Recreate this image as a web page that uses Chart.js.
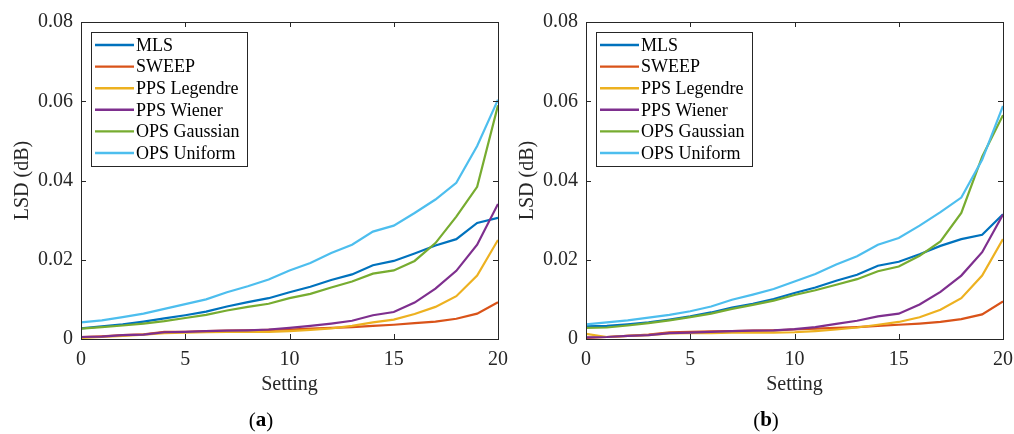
<!DOCTYPE html>
<html>
<head>
<meta charset="utf-8">
<script src="https://cdn.jsdelivr.net/npm/chart.js@4.4.1/dist/chart.umd.min.js"></script>
<style>
  body { margin: 0; background: #fff; width: 1014px; height: 434px; position: relative; overflow: hidden; }
  .panel { position: absolute; top: 0; width: 510px; height: 434px; }
</style>
</head>
<body>
<div class="panel" style="left:0"><canvas id="chartA"></canvas></div>
<div class="panel" style="left:505px"><canvas id="chartB"></canvas></div>
<script>
var settings = [0, 1, 2, 3, 4, 5, 6, 7, 8, 9, 10, 11, 12, 13, 14, 15, 16, 17, 18, 19, 20];
var names = ["MLS", "SWEEP", "PPS Legendre", "PPS Wiener", "OPS Gaussian", "OPS Uniform"];
var colors = ["#0072BD", "#D95319", "#EDB120", "#7E2F8E", "#77AC30", "#4DBEEE"];
var yTicks = [0, 0.02, 0.04, 0.06, 0.08];
var xTicks = [0, 5, 10, 15, 20];

// panel (a)
var mlsA = [0.0027, 0.0032, 0.0037, 0.0044, 0.0052, 0.0060, 0.0069, 0.0082, 0.0093, 0.0103, 0.0118, 0.0132, 0.0149, 0.0163, 0.0186, 0.0197, 0.0216, 0.0236, 0.0252, 0.0293, 0.0306];
var sweepA = [0.0005, 0.0007, 0.0010, 0.0012, 0.0018, 0.0018, 0.0020, 0.0021, 0.0022, 0.0023, 0.0024, 0.0026, 0.0028, 0.0030, 0.0033, 0.0036, 0.0040, 0.0044, 0.0051, 0.0064, 0.0093];
var legendreA = [0.0003, 0.0005, 0.0008, 0.0011, 0.0015, 0.0016, 0.0017, 0.0018, 0.0018, 0.0018, 0.0020, 0.0023, 0.0027, 0.0033, 0.0042, 0.0049, 0.0063, 0.0081, 0.0108, 0.0160, 0.0250];
var wienerA = [0.0005, 0.0006, 0.0010, 0.0011, 0.0017, 0.0018, 0.0020, 0.0021, 0.0022, 0.0024, 0.0028, 0.0033, 0.0039, 0.0046, 0.0060, 0.0068, 0.0092, 0.0127, 0.0172, 0.0238, 0.0341];
var gaussianA = [0.0026, 0.0030, 0.0034, 0.0039, 0.0045, 0.0053, 0.0061, 0.0072, 0.0081, 0.0089, 0.0103, 0.0114, 0.0130, 0.0145, 0.0165, 0.0173, 0.0197, 0.0242, 0.0309, 0.0384, 0.0590];
var uniformA = [0.0042, 0.0047, 0.0055, 0.0064, 0.0076, 0.0088, 0.0100, 0.0118, 0.0133, 0.0150, 0.0173, 0.0192, 0.0217, 0.0238, 0.0271, 0.0286, 0.0318, 0.0352, 0.0394, 0.0487, 0.0604];

// panel (b)
var mlsB = [0.0032, 0.0033, 0.0037, 0.0042, 0.0049, 0.0057, 0.0067, 0.0079, 0.0089, 0.0101, 0.0116, 0.0130, 0.0147, 0.0162, 0.0185, 0.0195, 0.0214, 0.0235, 0.0252, 0.0263, 0.0315];
var sweepB = [0.0003, 0.0005, 0.0008, 0.0011, 0.0017, 0.0018, 0.0019, 0.0020, 0.0021, 0.0022, 0.0024, 0.0026, 0.0028, 0.0030, 0.0033, 0.0036, 0.0039, 0.0043, 0.0050, 0.0062, 0.0095];
var legendreB = [0.0013, 0.0005, 0.0008, 0.0010, 0.0014, 0.0015, 0.0015, 0.0016, 0.0016, 0.0016, 0.0017, 0.0020, 0.0024, 0.0029, 0.0036, 0.0043, 0.0055, 0.0074, 0.0103, 0.0160, 0.0252];
var wienerB = [0.0004, 0.0005, 0.0008, 0.0010, 0.0015, 0.0016, 0.0018, 0.0020, 0.0021, 0.0022, 0.0025, 0.0030, 0.0038, 0.0046, 0.0057, 0.0064, 0.0087, 0.0119, 0.0160, 0.0219, 0.0314];
var gaussianB = [0.0028, 0.0029, 0.0034, 0.0040, 0.0047, 0.0055, 0.0064, 0.0076, 0.0086, 0.0097, 0.0111, 0.0123, 0.0137, 0.0151, 0.0171, 0.0183, 0.0210, 0.0246, 0.0318, 0.0460, 0.0565];
var uniformB = [0.0037, 0.0042, 0.0047, 0.0054, 0.0061, 0.0070, 0.0082, 0.0099, 0.0112, 0.0126, 0.0145, 0.0164, 0.0188, 0.0209, 0.0238, 0.0255, 0.0286, 0.0320, 0.0357, 0.0452, 0.0588];

var FONT = 'Liberation Serif, serif';
var AXIS = '#262626';
Chart.defaults.font.family = FONT;

// axes box with inward ticks, legend box inside the axes, and the (a)/(b) caption
var framePlugin = {
    id: 'frame',
    afterDraw: function (chart, args, opts) {
        var ctx = chart.ctx, a = chart.chartArea;
        var xs = chart.scales.x, ys = chart.scales.y;
        ctx.save();
        ctx.strokeStyle = AXIS;
        ctx.lineWidth = 1;
        ctx.strokeRect(a.left + 0.5, a.top + 0.5, a.right - a.left, a.bottom - a.top);
        ctx.beginPath();
        xTicks.forEach(function (t) {
            var px = Math.round(xs.getPixelForValue(t)) + 0.5;
            ctx.moveTo(px, a.bottom); ctx.lineTo(px, a.bottom - 5);
            ctx.moveTo(px, a.top); ctx.lineTo(px, a.top + 5);
        });
        yTicks.forEach(function (t) {
            var py = Math.round(ys.getPixelForValue(t)) + 0.5;
            ctx.moveTo(a.left, py); ctx.lineTo(a.left + 5, py);
            ctx.moveTo(a.right, py); ctx.lineTo(a.right - 5, py);
        });
        ctx.stroke();

        // legend
        var bx = a.left + 10, by = a.top + 10;
        ctx.fillStyle = '#fff';
        ctx.fillRect(bx, by, 156, 134);
        ctx.strokeStyle = AXIS;
        ctx.strokeRect(bx + 0.5, by + 0.5, 156, 134);
        ctx.font = '18px ' + FONT;
        ctx.textBaseline = 'middle';
        chart.data.datasets.forEach(function (ds, i) {
            var ry = by + 13 + i * 21.6;
            ctx.strokeStyle = ds.borderColor;
            ctx.lineWidth = 2.4;
            ctx.beginPath();
            ctx.moveTo(bx + 4, ry); ctx.lineTo(bx + 43, ry);
            ctx.stroke();
            ctx.fillStyle = '#000';
            ctx.fillText(ds.label, bx + 45, ry + 1);
        });

        // caption
        var cx = opts.captionX, cy = 421;
        var normal = '21px ' + FONT, bold = 'bold 21px ' + FONT;
        ctx.font = normal; var w1 = ctx.measureText('(').width;
        ctx.font = bold; var w2 = ctx.measureText(opts.caption).width;
        var x0 = cx - (2 * w1 + w2) / 2;
        ctx.fillStyle = '#000';
        ctx.textAlign = 'left';
        ctx.font = normal; ctx.fillText('(', x0, cy);
        ctx.font = bold; ctx.fillText(opts.caption, x0 + w1, cy);
        ctx.font = normal; ctx.fillText(')', x0 + w1 + w2, cy);
        ctx.restore();
    }
};

function makeChart(id, caption, series) {
    var datasets = series.map(function (vals, i) {
        return {
            label: names[i],
            data: vals,
            borderColor: colors[i],
            backgroundColor: colors[i],
            borderWidth: 2.2,
            pointRadius: 0,
            tension: 0,
            order: series.length - i
        };
    });
    return new Chart(document.getElementById(id).getContext('2d'), {
        type: 'line',
        data: { labels: settings, datasets: datasets },
        options: {
            responsive: true,
            maintainAspectRatio: false,
            animation: false,
            layout: { padding: { top: 22, right: 12, bottom: 34, left: 0 } },
            scales: {
                x: {
                    type: 'linear',
                    min: 0,
                    max: 20,
                    afterBuildTicks: function (s) { s.ticks = xTicks.map(function (v) { return { value: v }; }); },
                    afterFit: function (s) { s.height = 61; s.paddingLeft = 0; s.paddingRight = 0; },
                    grid: { display: false, drawTicks: false },
                    border: { display: false },
                    ticks: { color: AXIS, font: { family: FONT, size: 20 }, padding: 9, maxRotation: 0 },
                    title: { display: true, text: 'Setting', color: AXIS, font: { family: FONT, size: 20 }, padding: { top: 0, bottom: 3 } }
                },
                y: {
                    min: 0,
                    max: 0.08,
                    afterBuildTicks: function (s) { s.ticks = yTicks.map(function (v) { return { value: v }; }); },
                    afterFit: function (s) { s.width = 81; s.paddingTop = 0; s.paddingBottom = 0; },
                    grid: { display: false, drawTicks: false },
                    border: { display: false },
                    ticks: {
                        color: AXIS,
                        font: { family: FONT, size: 20 },
                        padding: 8,
                        callback: function (v) { return v === 0 ? '0' : v.toFixed(2); }
                    },
                    title: { display: true, text: 'LSD (dB)', color: AXIS, font: { family: FONT, size: 20 }, padding: { top: 11, bottom: 0 } }
                }
            },
            plugins: {
                legend: { display: false },
                tooltip: { enabled: false },
                frame: { caption: caption, captionX: 261 }
            }
        },
        plugins: [framePlugin]
    });
}

makeChart('chartA', 'a', [mlsA, sweepA, legendreA, wienerA, gaussianA, uniformA]);
makeChart('chartB', 'b', [mlsB, sweepB, legendreB, wienerB, gaussianB, uniformB]);
</script>
</body>
</html>
